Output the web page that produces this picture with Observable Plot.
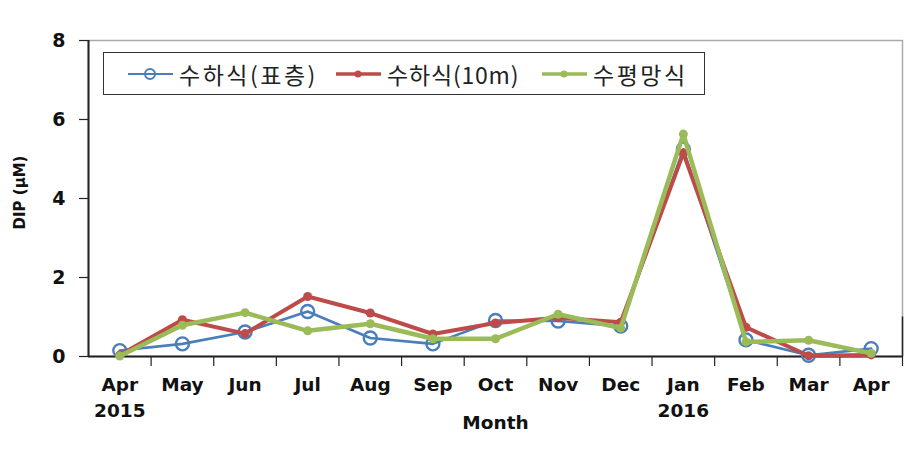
<!DOCTYPE html>
<html>
<head>
<meta charset="utf-8">
<script src="https://cdn.jsdelivr.net/npm/d3@7"></script>
<script src="https://cdn.jsdelivr.net/npm/@observablehq/plot@0.6"></script>
<style>
  html, body { margin: 0; padding: 0; background: #fff; }
  #wrap { position: relative; width: 924px; height: 455px; overflow: hidden; }
  #legend { position: absolute; left: 103px; top: 52px; width: 600px; height: 41px;
            border: 1.5px solid #333; background: #fff; box-sizing: content-box; }
  #legend .item { position: absolute; top: 0; height: 41px; display: flex; align-items: center; white-space: nowrap; }
  #legend .lbl { font-family: "Noto Sans CJK KR", sans-serif; font-size: 23px; color: #222;
                 letter-spacing: 2.5px; margin-left: 6px; }
</style>
</head>
<body>
<div id="wrap"></div>
<script>
const months = ["Apr","May","Jun","Jul","Aug","Sep","Oct","Nov","Dec","Jan","Feb","Mar","Apr"];
const years = ["2015","","","","","","","","","2016","","",""];
const seriesNames = ["수하식(표층)", "수하식(10m)", "수평망식"];
const surface  = [0.15, 0.32, 0.62, 1.14, 0.47, 0.32, 0.91, 0.90, 0.77, 5.25, 0.42, 0.03, 0.20];
const depth10  = [0.04, 0.93, 0.58, 1.52, 1.10, 0.57, 0.85, 0.98, 0.87, 5.15, 0.74, 0.02, 0.04];
const longline = [0.01, 0.79, 1.11, 0.65, 0.83, 0.45, 0.45, 1.07, 0.72, 5.63, 0.37, 0.41, 0.08];
const yTicks = [0, 2, 4, 6, 8];
const colors = ["#4A7EBB", "#BE4B48", "#9BBB59"];

const rows = months.map((m, i) => ({i, m, y: years[i], surface: surface[i], depth10: depth10[i], longline: longline[i]}));
const idx = d3.range(months.length);
const bounds = d3.range(months.length).map(i => i + 0.5);
const F = "DejaVu Sans";

const chart = Plot.plot({
  width: 924,
  height: 455,
  marginLeft: 88,
  marginRight: 22,
  marginTop: 40,
  marginBottom: 99,
  style: {background: "#fff", color: "#111", overflow: "visible"},
  x: {type: "linear", domain: [-0.5, months.length - 0.5]},
  y: {domain: [0, 8]},
  marks: [
    Plot.frame({stroke: "#aaa", strokeWidth: 1.5}),
    Plot.ruleX([months.length - 0.5], {y1: 0, y2: 1, stroke: "#222", strokeWidth: 1.5}),
    Plot.axisY({ticks: yTicks, tickSize: 9, tickPadding: 14, fontSize: 19, fontFamily: F, fontWeight: "bold", label: null, stroke: "#222", strokeWidth: 1.2}),
    Plot.axisX({ticks: bounds, tickSize: 10, tickFormat: () => "", label: null, stroke: "#222", strokeWidth: 1.2}),
    Plot.axisX({ticks: idx, tickSize: 0, tickPadding: 21, tickFormat: i => months[i], label: null, fontSize: 18.5, fontFamily: F, fontWeight: "bold", lineAnchor: "top"}),
    Plot.axisX({ticks: idx, tickSize: 0, tickPadding: 47, tickFormat: i => years[i], label: null, fontSize: 18.5, fontFamily: F, fontWeight: "bold", lineAnchor: "top"}),
    Plot.ruleY([0], {stroke: "#222", strokeWidth: 2}),
    Plot.ruleX([-0.5], {stroke: "#222", strokeWidth: 2}),
    Plot.text(["Month"], {frameAnchor: "bottom", dy: 72, fontSize: 18.5, fontFamily: F, fontWeight: "bold", fill: "#111"}),
    Plot.text(["DIP (μM)"], {frameAnchor: "left", textAnchor: "middle", dx: -68, dy: -6, rotate: -90, fontSize: 15, fontFamily: F, fontWeight: "bold", fill: "#111"}),
    // series 1: surface
    Plot.line(rows, {x: "i", y: "surface", stroke: colors[0], strokeWidth: 2.6}),
    Plot.dot(rows, {x: "i", y: "surface", r: 6.5, stroke: colors[0], strokeWidth: 2.4, fill: "none"}),
    // series 2: 10 m
    Plot.line(rows, {x: "i", y: "depth10", stroke: colors[1], strokeWidth: 4}),
    Plot.dot(rows, {x: "i", y: "depth10", r: 4.5, fill: colors[1]}),
    // series 3: longline
    Plot.line(rows, {x: "i", y: "longline", stroke: colors[2], strokeWidth: 4.5}),
    Plot.dot(rows, {x: "i", y: "longline", r: 4.5, fill: colors[2]})
  ]
});

const wrap = document.getElementById("wrap");
wrap.appendChild(chart);

// legend
const legend = document.createElement("div");
legend.id = "legend";
const swatchLeft = [24, 232, 438];
const spacing = [2.5, 0.8, 2.5];
seriesNames.forEach((name, k) => {
  const item = document.createElement("div");
  item.className = "item";
  item.style.left = swatchLeft[k] + "px";
  const marker = k === 0
    ? `<circle cx="22" cy="10" r="5" fill="none" stroke="${colors[0]}" stroke-width="2"/>`
    : `<circle cx="22" cy="10" r="3.5" fill="${colors[k]}"/>`;
  item.innerHTML = `<svg width="45" height="20"><line x1="0" y1="10" x2="45" y2="10" stroke="${colors[k]}" stroke-width="${k === 0 ? 2.2 : 3.5}"/>${marker}</svg><span class="lbl" style="letter-spacing:${spacing[k]}px">${name}</span>`;
  legend.appendChild(item);
});
wrap.appendChild(legend);
</script>
</body>
</html>
